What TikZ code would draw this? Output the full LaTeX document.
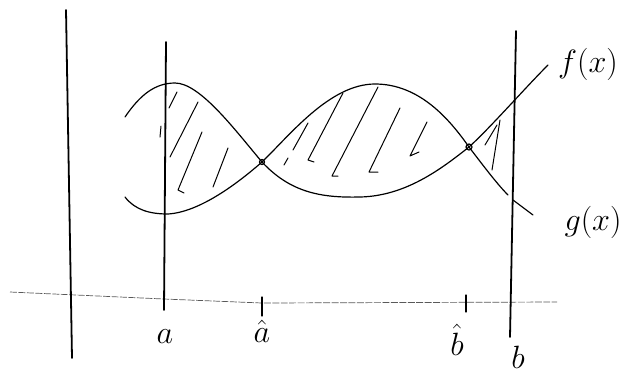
\documentclass[tikz,border=0pt]{standalone}
\usepackage{tikz}
\usetikzlibrary{positioning}

\tikzset{
  pen/.style={line width=1.2pt, line cap=round, line join=round},
  bar/.style={line width=1.8pt, line cap=round},
  hatch/.style={line width=1pt, line cap=round, line join=round},
  lbl/.style={font=\Huge, scale=1.3, inner sep=0pt}
}

\begin{document}
\begin{tikzpicture}[x=1bp, y=-1bp]
  \useasboundingbox (0,0) rectangle (628,373);

  \draw[line width=0.7pt, black!65, dash pattern=on 7pt off 1.5pt] (10,292) -- (164,299) -- (262,303) -- (557,302);

  \draw[bar] (66,10) -- (72,358);
  \draw[bar] (166,42) -- (164,310);
  \draw[bar] (516,31) -- (510,337);

  \coordinate (ahat) at (262,316);
  \coordinate (bhat) at (466,312);
  \draw[pen] (262,297) -- (ahat);
  \draw[pen] (466,295) -- (bhat);

  \coordinate (P) at (262,162);
  \coordinate (Q) at (469,147);

  % f
  \draw[pen] (125,117) .. controls (140,95) and (155,83) .. (175,83)
    .. controls (200,83) and (235,130) .. (P)
    .. controls (290,192) and (320,198) .. (360,197)
    .. controls (405,196) and (440,170) .. (Q)
    .. controls (490,128) and (525,88) .. (548,65);
  % g
  \draw[pen] (125,197) .. controls (135,210) and (150,214) .. (168,214)
    .. controls (200,212) and (238,183) .. (P)
    .. controls (290,135) and (330,84) .. (375,84)
    .. controls (420,84) and (450,120) .. (Q)
    .. controls (485,168) and (498,185) .. (508,195);
  \draw[pen] (513,200) -- (533,215);

  \draw[pen] (P) circle (2.5);
  \draw[pen] (Q) circle (3);

  \draw[hatch] (177,92) -- (169,108);
  \draw[hatch] (198,102) -- (170,157);
  \draw[hatch] (202,132) -- (178,190) -- (184,193);
  \draw[hatch] (228,148) -- (213,187);
  \draw[hatch] (161,126) -- (160,137);
  \draw[hatch] (288,158) -- (284,165);
  \draw[hatch] (308,123) -- (293,150);
  \draw[hatch] (343,93) -- (308,160) -- (314,162);
  \draw[hatch] (378,87) -- (332,176) -- (338,176);
  \draw[hatch] (400,108) -- (369,172) -- (378,172);
  \draw[hatch] (427,122) -- (410,156) -- (419,152);
  \draw[hatch] (500,120) -- (492,170);
  \draw[hatch] (497,125) -- (485,145);

  \node[lbl] (fx) at (588,64) {$f(x)$};
  \node[lbl] (gx) at (593,222) {$g(x)$};
  \node[lbl] (a) at (165,337) {$a$};
  \node[lbl, below=4pt of ahat] (ah) {$\hat a$};
  \node[lbl] (bh) at (457,340) {$\hat b$};
  \node[lbl] (b) at (518,357) {$b$};
\end{tikzpicture}
\end{document}
